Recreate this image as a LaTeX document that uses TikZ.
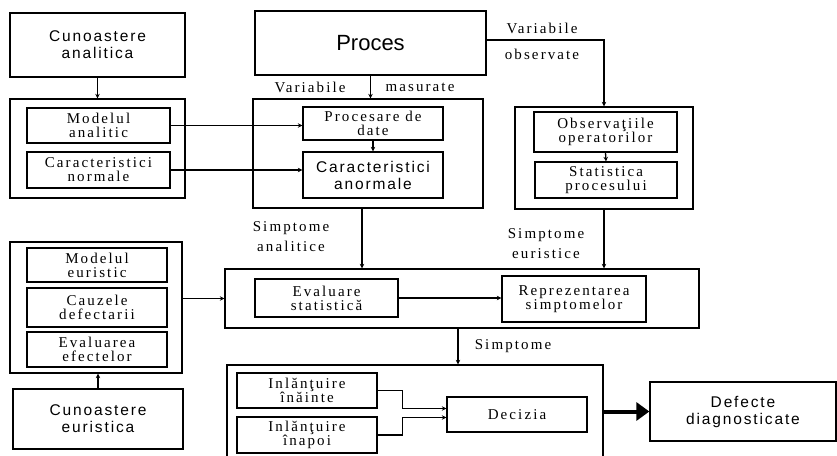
\documentclass[tikz,border=0pt]{standalone}
\usepackage{fontspec}
\setmainfont{Liberation Serif}
\newfontfamily\tsans[LetterSpace=12]{Liberation Sans}
\newfontfamily\tsansbig{Liberation Sans}
\newfontfamily\tser[LetterSpace=14]{Liberation Serif}
\usetikzlibrary{arrows.meta}
\tikzset{>={Stealth[length=4.5pt,width=4.5pt]}}
\tikzset{
  bx/.style 2 args={draw, minimum width=#1pt, minimum height=#2pt, inner sep=1pt, align=center},
  ser/.style={font=\tser\fontsize{15}{14}\selectfont},
  sns/.style={font=\tsans\fontsize{15.5}{17}\selectfont},
  lbl/.style={font=\tser\fontsize{15}{20}\selectfont, align=center}
}

\begin{document}
\begin{tikzpicture}[x=1pt, y=-1pt, line width=1.3pt]
		\useasboundingbox (0,0) rectangle (837,455);
		\clip (0,0) rectangle (837,455);
		\node[bx={175}{64},sns] (kanal) at (97.5,45) {Cunoastere\\analitica};
		\node[bx={175}{99}] (grpan) at (97.5,148.5) {};
		\node[bx={143}{35},ser] (modan) at (98.5,125.5) {Modelul\\analitic};
		\node[bx={143}{36},ser] (carnorm) at (98.5,170) {Caracteristici\\normale};
		\node[bx={231}{64},font=\tsansbig\fontsize{22}{24}\selectfont] (proces) at (370.5,43) {Proces};
		\node[bx={230}{109}] (grpproc) at (368,153.5) {};
		\node[bx={140}{33},ser] (procdate) at (373,123.5) {Procesare de\\date};
		\node[bx={140}{46},sns] (caranorm) at (373,175) {Caracteristici\\anormale};
		\node[bx={178}{102}] (grpobs) at (604,158) {};
		\node[bx={143}{40},ser] (obsop) at (605.5,132) {Observaţiile\\operatorilor};
		\node[bx={142}{36},ser] (statproc) at (606,180) {Statistica\\procesului};
		\node[bx={172}{131}] (grpeur) at (96,307.5) {};
		\node[bx={140}{34},ser] (modeur) at (97,265) {Modelul\\euristic};
		\node[bx={140}{39},ser] (cauze) at (97,307.5) {Cauzele\\defectarii};
		\node[bx={140}{35},ser] (evalef) at (97,349.5) {Evaluarea\\efectelor};
		\node[bx={170}{60},sns] (keur) at (98,419) {Cunoastere\\euristica};
		\node[bx={474}{59}] (grpeval) at (462,298.5) {};
		\node[bx={143}{38},ser] (evalstat) at (326.5,298) {Evaluare\\statistică};
		\node[bx={144}{46},ser] (reprez) at (574,299) {Reprezentarea\\simptomelor};
		\node[bx={376}{105}] (grpdec) at (415,417.5) {};
		\node[bx={140}{35},ser] (inainte) at (307,390.5) {Inlănţuire\\înăinte};
		\node[bx={140}{36},ser] (inapoi) at (307,435) {Inlănţuire\\înapoi};
		\node[bx={140}{35},ser] (decizia) at (517,414.5) {Decizia};
		\node[bx={186}{59},sns] (defecte) at (743,411.5) {Defecte\\diagnosticate};
		\node[lbl] (vmas1) at (310,87) {Variabile};
		\node[lbl] (vmas2) at (420,87) {masurate};
		\node[lbl] (vobs1) at (542,28) {Variabile};
		\node[lbl] (vobs2) at (542,54) {observate};
		\node[lbl] (sana) at (291,237) {Simptome\\analitice};
		\node[lbl] (seur) at (546,244) {Simptome\\euristice};
		\node[lbl] (simpt) at (513,346) {Simptome};
		\draw [->] (kanal.south) -- (grpan.north);
		\draw [->] (proces.south) -- (proces.south |- grpproc.north);
		\draw [->] ([yshift=3pt]proces.east) -| (grpobs.north);
		\draw [->] (modan.east) -- (procdate.west |- modan.east);
		\draw [->] (carnorm.east) -- (caranorm.west |- carnorm.east);
		\draw [->] (procdate.south) -- (caranorm.north);
		\draw [->] (obsop.south) -- (statproc.north);
		\draw [->] ([xshift=-6pt]grpproc.south) -- ([xshift=-6pt]grpproc.south |- grpeval.north);
		\draw [->] (grpobs.south) -- (grpobs.south |- grpeval.north);
		\draw [->] (grpeur.east |- grpeval.west) -- (grpeval.west);
		\draw [->] (keur.north) -- (keur.north |- grpeur.south);
		\draw [->] (evalstat.east) -- (reprez.west |- evalstat.east);
		\draw [->] ([xshift=-4pt]grpeval.south) -- ([xshift=-4pt]grpeval.south |- grpdec.north);
		\draw [->] (inainte.east) -- ++(25,0) |- ([yshift=6pt]decizia.west);
		\draw [->] (inapoi.east) -- ++(25,0) |- ([yshift=-3pt]decizia.west);
		\draw [line width=4pt, -{Triangle[length=13pt,width=18pt]}] (grpdec.east |- defecte.west) -- (defecte.west);
\end{tikzpicture}
\end{document}
